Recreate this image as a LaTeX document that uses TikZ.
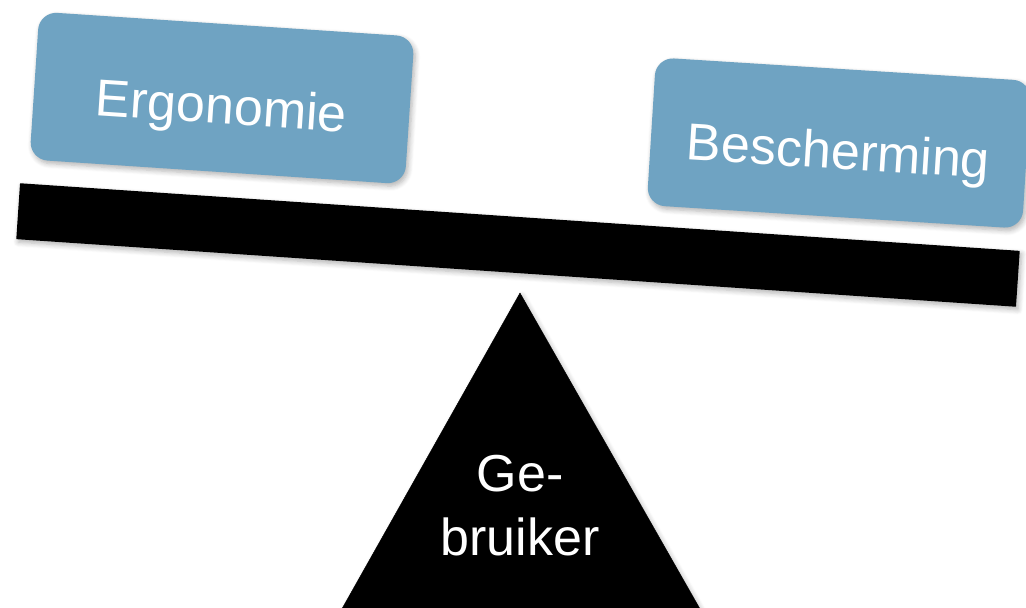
\documentclass[tikz,border=0pt]{standalone}
\usepackage{fontspec}
\setmainfont{Liberation Sans}
\usetikzlibrary{shadows.blur}
\definecolor{weegblauw}{RGB}{111,163,194}

\begin{document}
\begin{tikzpicture}[x=1pt,y=-1pt,
	schaduw/.style={blur shadow={shadow blur steps=6,shadow xshift=2pt,shadow yshift=-3pt,shadow opacity=30,shadow blur radius=5pt}},
	gewicht/.style={rectangle,rounded corners=18pt,fill=weegblauw,text=white,minimum width=376pt,minimum height=148pt,
		font=\fontsize{52}{64}\selectfont,text height=52pt,text depth=0pt,schaduw},
	balk/.style={rectangle,fill=black,minimum width=1002pt,minimum height=56pt,inner sep=0pt,schaduw}]
			\useasboundingbox (0,0) rectangle (1026,608);
			\clip (0,0) rectangle (1026,608);
			% weegschaal
			\node [balk, rotate=-3.87] (balk) at (518,245) {};
			\draw [fill=black, schaduw] (520,293) -- (330,630) -- (712,630) -- cycle;
			\node [text=white, align=center, font=\fontsize{52}{64}\selectfont] (gebruiker) at (520,506) {Ge-\\bruiker};
			% gewichten
			\node [gewicht, rotate=-3.8] (ergonomie) at (222,98) {Ergonomie};
			\node [gewicht, rotate=-3.6] (bescherming) at (839,143) {Bescherming};
		\end{tikzpicture}
\end{document}
